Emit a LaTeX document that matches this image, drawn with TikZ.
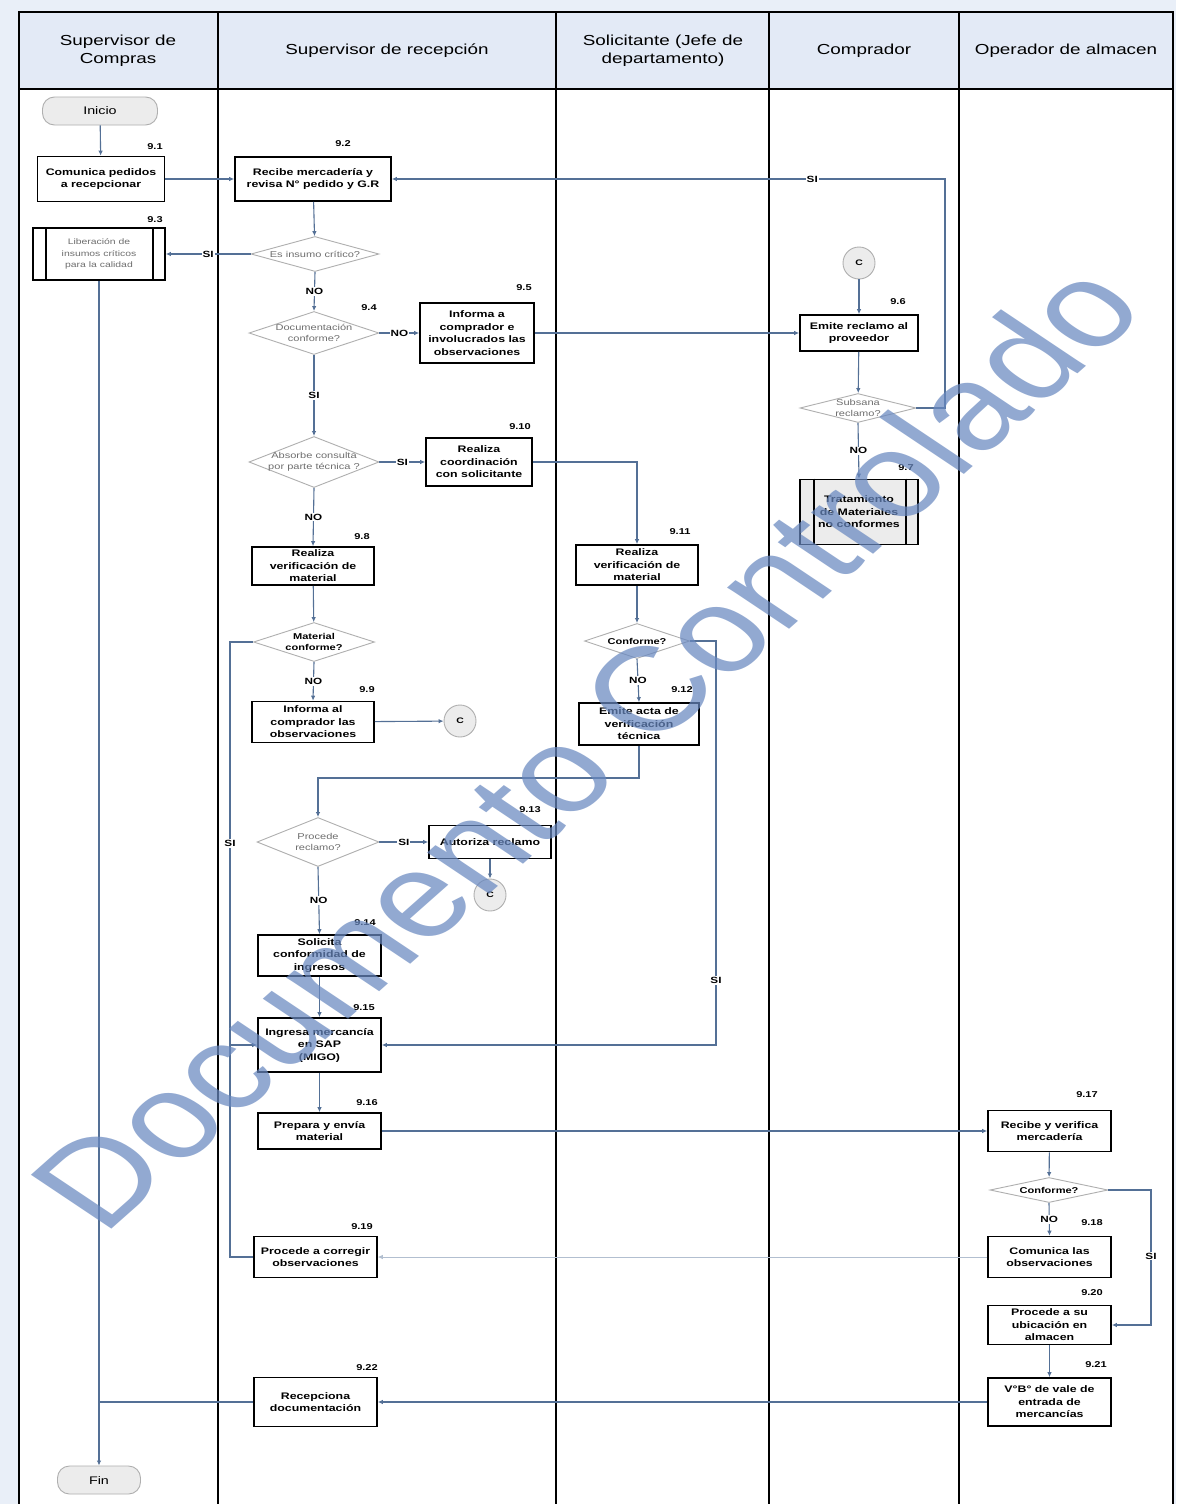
\documentclass[tikz,border=0pt]{standalone}
\usepackage{fontspec}
\setmainfont{Liberation Sans}[FakeStretch=1.3]
\newfontfamily\wmfont{Liberation Sans}
\usetikzlibrary{shapes.geometric,arrows.meta}

\definecolor{pagebg}{RGB}{233,239,248}
\definecolor{lanehead}{RGB}{227,234,246}
\definecolor{flow}{RGB}{84,112,150}
\definecolor{diagray}{RGB}{175,175,175}
\definecolor{diatext}{RGB}{110,110,110}
\definecolor{termfill}{RGB}{236,236,236}
\definecolor{wm}{RGB}{104,136,192}

\begin{document}
\begin{tikzpicture}[x=1pt,y=-1pt,
  box/.style={draw=black,line width=1.6pt,fill=white,align=center,inner sep=1pt,
    font=\fontsize{9.5}{12.5}\selectfont\bfseries},
  subproc/.style={box,fill=termfill},
  term/.style={draw=diagray,line width=0.9pt,fill=termfill,rounded corners=12pt,
    font=\fontsize{11}{13}\selectfont},
  dia/.style={diamond,draw=diagray,line width=0.9pt,fill=white,inner sep=0pt},
  dtext/.style={align=center,text=diatext,font=\fontsize{8.5}{11.5}\selectfont},
  dtextb/.style={align=center,text=black,font=\fontsize{8.5}{11.5}\selectfont\bfseries},
  conn/.style={circle,draw=diagray,line width=0.9pt,fill=termfill,minimum size=32pt,
    inner sep=0pt,font=\fontsize{8}{10}\selectfont\bfseries},
  num/.style={font=\fontsize{8.5}{10}\selectfont\bfseries,inner sep=0pt},
  head/.style={align=center,font=\fontsize{14.5}{18}\selectfont},
  flowline/.style={draw=flow,line width=1.1pt},
  arr/.style={flowline,-{Latex[length=5pt,width=4.5pt]}},
  yn/.style={fill=white,inner sep=1pt,text=black,font=\fontsize{9}{10}\selectfont\bfseries},
]
\useasboundingbox (0,0) rectangle (1176,1504);
\fill[pagebg] (0,0) rectangle (1176,1504);

% lanes
\fill[white] (19,89) rectangle (1173,1504);
\fill[lanehead] (19,12) rectangle (1173,89);
\draw[line width=1.6pt] (19,1504) -- (19,12) -- (1173,12) -- (1173,1504);
\draw[line width=1.6pt] (19,89) -- (1173,89);
\foreach \lx in {218,556,769,959}
  \draw[line width=1.6pt] (\lx,12) -- (\lx,1504);

\node[head] (h1) at (118,51) {Supervisor de\\Compras};
\node[head] (h2) at (387,51) {Supervisor de recepción};
\node[head] (h3) at (663,51) {Solicitante (Jefe de\\departamento)};
\node[head] (h4) at (864,51) {Comprador};
\node[head] (h5) at (1066,51) {Operador de almacen};

% Supervisor de Compras
\node[term,minimum width=115pt,minimum height=28pt] (inicio) at (100,111) {Inicio};
\node[box,minimum width=127pt,minimum height=45pt] (b91) at (101,179) {Comunica pedidos\\a recepcionar};
\node[box,minimum width=132pt,minimum height=52pt,
  font=\fontsize{8}{11.5}\selectfont,text=diatext] (b93) at (99,254) {Liberación de\\insumos críticos\\para la calidad};
\draw[line width=1.6pt] ([xshift=14pt]b93.north west) -- ([xshift=14pt]b93.south west);
\draw[line width=1.6pt] ([xshift=-13pt]b93.north east) -- ([xshift=-13pt]b93.south east);
\node[term,minimum width=83pt,minimum height=28pt] (fin) at (99,1480) {Fin};

% Supervisor de recepcion
\node[box,minimum width=156pt,minimum height=44pt] (b92) at (313,179) {Recibe mercadería y\\revisa N° pedido y G.R};
\node[dia,minimum width=128pt,minimum height=35pt,label={[dtext]center:Es insumo crítico?}] (d1) at (315,254) {};
\node[dia,minimum width=130pt,minimum height=43pt,label={[dtext]center:Documentación\\conforme?}] (d2) at (314,333) {};
\node[box,minimum width=114pt,minimum height=60pt] (b95) at (477,333) {Informa a\\comprador e\\involucrados las\\observaciones};
\node[dia,minimum width=130pt,minimum height=51pt,label={[dtext]center:Absorbe consulta\\por parte técnica ?}] (d3) at (314,462) {};
\node[box,minimum width=106pt,minimum height=48pt] (b910) at (479,462) {Realiza\\coordinación\\con solicitante};
\node[box,minimum width=122pt,minimum height=38pt] (b98) at (313,566) {Realiza\\verificación de\\material};
\node[dia,minimum width=121pt,minimum height=39pt,label={[dtextb]center:Material\\conforme?}] (d5) at (314,642) {};
\node[box,minimum width=122pt,minimum height=41pt] (b99) at (313,722) {Informa al\\comprador las\\observaciones};
\node[conn] (c2) at (460,721) {C};
\node[dia,minimum width=122pt,minimum height=49pt,label={[dtext]center:Procede\\reclamo?}] (d6) at (318,842) {};
\node[box,minimum width=122pt,minimum height=33pt] (b913) at (490,842) {Autoriza reclamo};
\node[conn] (c3) at (490,895) {C};
\node[box,minimum width=123pt,minimum height=41pt] (b914) at (319.5,955.5) {Solicita\\conformidad de\\ingresos};
\node[box,minimum width=123pt,minimum height=54pt] (b915) at (319.5,1045) {Ingresa mercancía\\en SAP\\(MIGO)};
\node[box,minimum width=123pt,minimum height=36pt] (b916) at (319.5,1131) {Prepara y envía\\material};
\node[box,minimum width=123pt,minimum height=41pt] (b919) at (315.5,1257) {Procede a corregir\\observaciones};
\node[box,minimum width=123pt,minimum height=49pt] (b922) at (315.5,1402) {Recepciona\\documentación};

% Solicitante
\node[box,minimum width=122pt,minimum height=40pt] (b911) at (637,565) {Realiza\\verificación de\\material};
\node[dia,minimum width=105pt,minimum height=35pt,label={[dtextb]center:Conforme?}] (d8) at (637,641) {};
\node[box,minimum width=120pt,minimum height=42pt] (b912) at (639,724) {Emite acta de\\verificación\\técnica};

% Comprador
\node[conn] (c1) at (859,263) {C};
\node[box,minimum width=118pt,minimum height=36pt] (b96) at (859,333) {Emite reclamo al\\proveedor};
\node[dia,minimum width=116pt,minimum height=29pt,label={[dtext]center:Subsana\\reclamo?}] (d4) at (858,408) {};
\node[subproc,minimum width=118pt,minimum height=65pt] (b97) at (859,512) {Tratamiento\\de Materiales\\no conformes};
\draw[line width=1.6pt] ([xshift=15pt]b97.north west) -- ([xshift=15pt]b97.south west);
\draw[line width=1.6pt] ([xshift=-13pt]b97.north east) -- ([xshift=-13pt]b97.south east);

% Operador de almacen
\node[box,minimum width=123pt,minimum height=41pt] (b917) at (1049.5,1131) {Recibe y verifica\\mercadería};
\node[dia,minimum width=118pt,minimum height=25pt,label={[dtextb]center:Conforme?}] (d7) at (1049,1190) {};
\node[box,minimum width=123pt,minimum height=41pt] (b918) at (1049.5,1257) {Comunica las\\observaciones};
\node[box,minimum width=123pt,minimum height=39pt] (b920) at (1049.5,1325) {Procede a su\\ubicación en\\almacen};
\node[box,minimum width=123pt,minimum height=48pt] (b921) at (1049.5,1402) {V°B° de vale de\\entrada de\\mercancías};

% step numbers
\node[num] (n91) at (155,147) {9.1};
\node[num] (n92) at (343,144) {9.2};
\node[num] (n93) at (155,220) {9.3};
\node[num] (n94) at (369,308) {9.4};
\node[num] (n95) at (524,288) {9.5};
\node[num] (n96) at (898,302) {9.6};
\node[num] (n97) at (906,468) {9.7};
\node[num] (n98) at (362,537) {9.8};
\node[num] (n99) at (367,690) {9.9};
\node[num] (n910) at (520,427) {9.10};
\node[num] (n911) at (680,532) {9.11};
\node[num] (n912) at (682,690) {9.12};
\node[num] (n913) at (530,810) {9.13};
\node[num] (n914) at (365,923) {9.14};
\node[num] (n915) at (364,1008) {9.15};
\node[num] (n916) at (367,1103) {9.16};
\node[num] (n917) at (1087,1095) {9.17};
\node[num] (n918) at (1092,1223) {9.18};
\node[num] (n919) at (362,1227) {9.19};
\node[num] (n920) at (1092,1293) {9.20};
\node[num] (n921) at (1096,1365) {9.21};
\node[num] (n922) at (367,1368) {9.22};

% routing points
\coordinate (k1) at (945,179);
\coordinate (k3) at (230,1045);
\coordinate (k4) at (716,1045);
\coordinate (k5) at (318,778);
\coordinate (k6) at (1151,1325);
\coordinate (k7) at (99,1402);

% connectors
\draw[arr] (inicio) -- (b91);
\draw[arr] (b91) -- (b92);
\draw[arr] (b92) -- (d1);
\draw[arr] (d1.west) -- node[yn]{SI} (b93.east);
\draw[arr] (b93.south) -- (fin.north);
\draw[flowline] (b922.west) -- (k7);
\draw[arr] (d1.south) -- node[yn]{NO} (d2.north);
\draw[arr] (d2.east) -- node[yn]{NO} (b95.west);
\draw[arr] (b95.east) -- (b96.west);
\draw[arr] (c1) -- (b96);
\draw[arr] (b96) -- (d4);
\draw[arr] (d4.east) -| (k1) -- node[yn,pos=0.24]{SI} (b92.east);
\draw[arr] (d4.south) -- node[yn]{NO} (b97.north);
\draw[arr] (d2.south) -- node[yn]{SI} (d3.north);
\draw[arr] (d3.east) -- node[yn]{SI} (b910.west);
\draw[arr] (b910.east) -| (b911.north);
\draw[arr] (d3.south) -- node[yn]{NO} (b98.north);
\draw[arr] (b98) -- (d5);
\draw[arr] (d5.south) -- node[yn]{NO} (b99.north);
\draw[arr] (b99) -- (c2);
\draw[arr] (d5.west) -| node[yn,pos=0.75]{SI} (k3) -- (b915.west);
\draw[arr] (b911) -- (d8);
\draw[arr] (d8.south) -- node[yn]{NO} (b912.north);
\draw[arr] (d8.east) -| node[yn,pos=0.92]{SI} (k4) -- (b915.east);
\draw[arr] (b912.south) |- (k5) -- (d6.north);
\draw[arr] (d6.east) -- node[yn]{SI} (b913.west);
\draw[arr] (b913) -- (c3);
\draw[arr] (d6.south) -- node[yn]{NO} (b914.north);
\draw[arr] (b914) -- (b915);
\draw[arr] (b915) -- (b916);
\draw[arr] (b916) -- (b917);
\draw[arr] (b917) -- (d7);
\draw[arr] (d7.south) -- node[yn]{NO} (b918.north);
\draw[arr] (d7.east) -| node[yn,pos=0.745]{SI} (k6) -- (b920.east);
\draw[arr,draw=flow!45,line width=0.8pt] (b918.west) -- (b919.east);
\draw[flowline] (b919.west) -| (k3);
\draw[arr] (b920) -- (b921);
\draw[arr] (b921.west) -- (b922.east);

% document control stamp
\begin{scope}[shift={(585,745)},yscale=0.77]
  \node[rotate=49,transform shape,text=wm,text opacity=0.72,
    font=\wmfont\fontsize{155}{155}\selectfont] (stamp) at (0,0) {Documento Controlado};
\end{scope}
\end{tikzpicture}
\end{document}
